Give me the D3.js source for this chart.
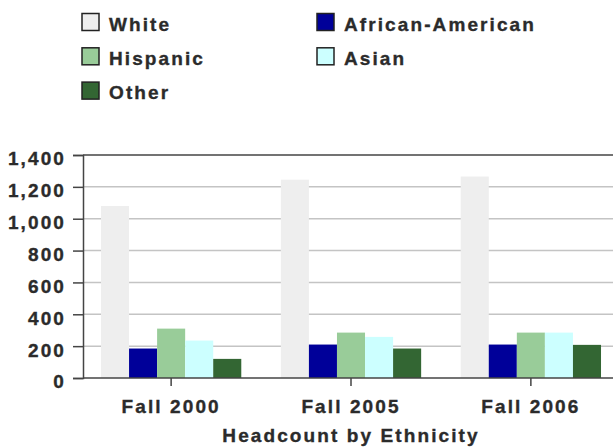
<!DOCTYPE html>
<html>
<head>
<meta charset="utf-8">
<script src="https://cdn.jsdelivr.net/npm/d3@7"></script>
<style>
  body { margin: 0; background: #fff; }
  text { font-family: "Liberation Sans", Arial, sans-serif; font-weight: bold; fill: #2b2b2b; stroke: #2b2b2b; stroke-width: 0.35px; letter-spacing: 2.1px; }
</style>
</head>
<body>
<svg id="chart"></svg>
<script>
const width = 613;
const height = 447;
const margin = { top: 155, right: -6, bottom: 69, left: 83 };

// Data
const terms = ["Fall 2000", "Fall 2005", "Fall 2006"];
const groups = ["White", "African-American", "Hispanic", "Asian", "Other"];
const white    = [1080, 1245, 1265];
const african  = [185, 210, 210];
const hispanic = [310, 285, 285];
const asian    = [235, 258, 285];
const other    = [120, 185, 208];
const colors = ["#eeeeee", "#000099", "#99cc99", "#ccffff", "#336633"];
const yTicks = [0, 200, 400, 600, 800, 1000, 1200, 1400];

const series = [white, african, hispanic, asian, other];

const svg = d3.select("#chart")
    .attr("width", width)
    .attr("height", height);

const x0 = d3.scaleBand()
    .domain(terms)
    .range([margin.left, width - margin.right])
    .paddingInner(0.22)
    .paddingOuter(0.1);

const x1 = d3.scaleBand()
    .domain(groups)
    .range([0, x0.bandwidth()]);

const y = d3.scaleLinear()
    .domain([0, 1400])
    .range([height - margin.bottom, margin.top]);

// Gridlines
svg.append("g")
    .selectAll("line")
    .data(yTicks.slice(1, -1))
    .join("line")
    .attr("x1", margin.left)
    .attr("x2", width)
    .attr("y1", d => y(d))
    .attr("y2", d => y(d))
    .attr("stroke", "#c4c4c4")
    .attr("stroke-width", 1.5);

// Bars
const barData = [];
terms.forEach((t, i) => {
    groups.forEach((g, j) => {
        barData.push({ term: t, group: g, value: series[j][i], color: colors[j] });
    });
});

svg.append("g")
    .selectAll("rect")
    .data(barData)
    .join("rect")
    .attr("x", d => x0(d.term) + x1(d.group))
    .attr("y", d => y(d.value))
    .attr("width", x1.bandwidth())
    .attr("height", d => y(0) - y(d.value))
    .attr("fill", d => d.color);

// Frame: top line
svg.append("line")
    .attr("x1", margin.left).attr("x2", width)
    .attr("y1", y(1400)).attr("y2", y(1400))
    .attr("stroke", "#444").attr("stroke-width", 1.5);

// Y axis
const yAxis = d3.axisLeft(y)
    .tickValues(yTicks)
    .tickSize(10)
    .tickPadding(7)
    .tickFormat(d3.format(","));

const gY = svg.append("g")
    .attr("transform", `translate(${margin.left},0)`)
    .call(yAxis);
gY.select(".domain").attr("stroke", "#444").attr("stroke-width", 1.5);
gY.selectAll(".tick line").attr("stroke", "#444").attr("stroke-width", 1.5);
gY.selectAll(".tick text")
    .attr("font-size", 19)
    .attr("dy", "0.52em")
    .attr("fill", "#2b2b2b")
    .style("font-family", "inherit");

// X axis
const xAxis = d3.axisBottom(x0)
    .tickSize(8)
    .tickPadding(14);

const gX = svg.append("g")
    .attr("transform", `translate(0,${y(0)})`)
    .call(xAxis);
gX.select(".domain").attr("stroke", "#444").attr("stroke-width", 1.5).attr("d", `M${margin.left},0H${width}`);
gX.selectAll(".tick line").attr("stroke", "#444").attr("stroke-width", 1.5);
gX.selectAll(".tick text")
    .attr("font-size", 19)
    .attr("fill", "#2b2b2b")
    .style("font-family", "inherit");

// X axis title
svg.append("text")
    .attr("x", 351)
    .attr("y", 442)
    .attr("text-anchor", "middle")
    .attr("font-size", 19)
    .text("Headcount by Ethnicity");

// Legend
const legendPos = [
    { name: "White", col: 0, row: 0 },
    { name: "African-American", col: 1, row: 0 },
    { name: "Hispanic", col: 0, row: 1 },
    { name: "Asian", col: 1, row: 1 },
    { name: "Other", col: 0, row: 2 }
];
const colX = [82, 317];

const legend = svg.append("g")
    .selectAll("g")
    .data(legendPos)
    .join("g")
    .attr("transform", d => `translate(${colX[d.col]},${13.5 + d.row * 34.3})`);

legend.append("rect")
    .attr("width", 17)
    .attr("height", 17)
    .attr("fill", d => colors[groups.indexOf(d.name)])
    .attr("stroke", "#222")
    .attr("stroke-width", 1.5);

legend.append("text")
    .attr("x", 27)
    .attr("y", 17)
    .attr("font-size", 19)
    .text(d => d.name);
</script>
</body>
</html>
